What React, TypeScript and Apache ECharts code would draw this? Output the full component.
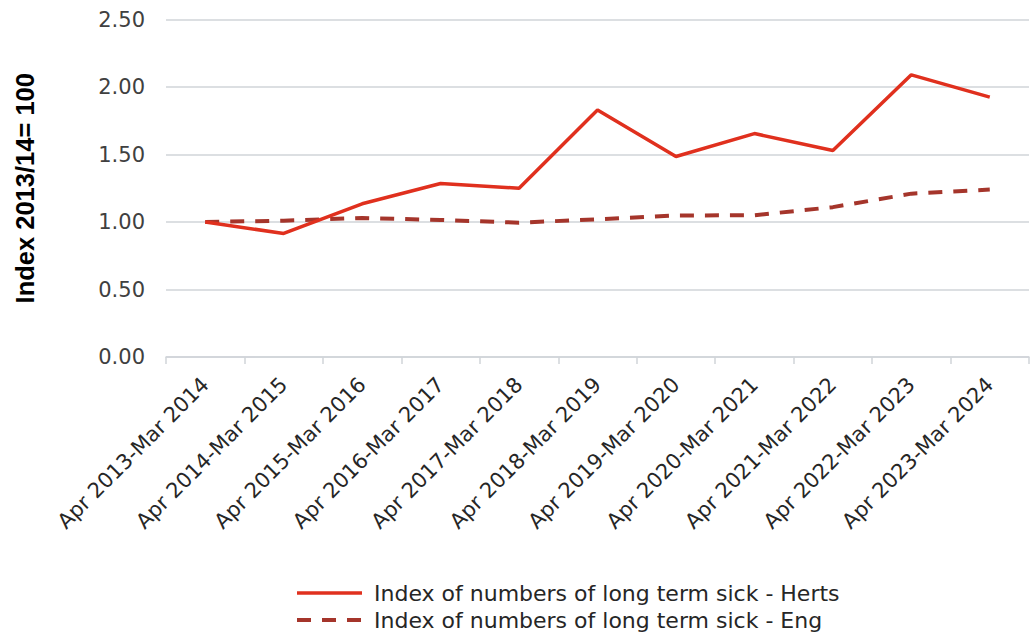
import React, { useEffect, useRef } from "react";
import * as echarts from "echarts";

const periods = [
  "Apr 2013-Mar 2014",
  "Apr 2014-Mar 2015",
  "Apr 2015-Mar 2016",
  "Apr 2016-Mar 2017",
  "Apr 2017-Mar 2018",
  "Apr 2018-Mar 2019",
  "Apr 2019-Mar 2020",
  "Apr 2020-Mar 2021",
  "Apr 2021-Mar 2022",
  "Apr 2022-Mar 2023",
  "Apr 2023-Mar 2024",
];

const hertsIndex = [1.0, 0.915, 1.135, 1.285, 1.25, 1.83, 1.485, 1.655, 1.53, 2.09, 1.925];
const englandIndex = [1.0, 1.01, 1.03, 1.015, 0.995, 1.02, 1.048, 1.05, 1.11, 1.21, 1.24];

const hertsName = "Index of numbers of long term sick - Herts";
const englandName = "Index of numbers of long term sick - Eng";

const FONT = "DejaVu Sans";
const HERTS_COLOR = "#e0301e";
const ENG_COLOR = "#a5352b";
const ENG_DASH = [14, 11];

export default function App() {
  const ref = useRef<HTMLDivElement>(null);

  useEffect(() => {
    if (!ref.current) return;
    const chart = echarts.init(ref.current, null, { renderer: "svg" });
    chart.setOption({
      animation: false,
      backgroundColor: "#ffffff",
      grid: { left: 166, right: 2, top: 19.5, bottom: 282, containLabel: false },
      legend: {
        orient: "vertical",
        left: 290,
        top: 577,
        itemWidth: 65,
        itemHeight: 12,
        itemGap: 5,
        itemStyle: { opacity: 0 },
        textStyle: {
          fontFamily: FONT,
          fontSize: 22,
          color: "#262626",
          padding: [0, 0, 0, 7],
        },
        data: [
          { name: hertsName, lineStyle: { width: 3.5, color: HERTS_COLOR } },
          { name: englandName, lineStyle: { width: 4, color: ENG_COLOR, type: ENG_DASH } },
        ],
      },
      xAxis: {
        type: "category",
        data: periods,
        boundaryGap: true,
        axisLine: { lineStyle: { color: "#d0d4d9", width: 1.5 } },
        axisTick: { show: true, length: 7, lineStyle: { color: "#d0d4d9", width: 1.5 } },
        axisLabel: {
          rotate: 45,
          interval: 0,
          margin: 24,
          fontFamily: FONT,
          fontSize: 21,
          color: "#262626",
        },
      },
      yAxis: {
        type: "value",
        min: 0,
        max: 2.5,
        interval: 0.5,
        name: "Index 2013/14= 100",
        nameLocation: "middle",
        nameRotate: 90,
        nameGap: 128,
        nameTextStyle: {
          fontFamily: "Liberation Sans",
          fontWeight: "bold",
          fontSize: 25.5,
          color: "#000000",
        },
        axisLine: { show: false },
        axisTick: { show: false },
        axisLabel: {
          margin: 21,
          fontFamily: FONT,
          fontSize: 21,
          color: "#404040",
          formatter: (v: number) => v.toFixed(2),
        },
        splitLine: { lineStyle: { color: "#d0d4d9", width: 1.5 } },
      },
      series: [
        {
          name: hertsName,
          type: "line",
          data: hertsIndex,
          symbol: "none",
          lineStyle: { color: HERTS_COLOR, width: 3.5 },
          itemStyle: { color: HERTS_COLOR },
          z: 3,
        },
        {
          name: englandName,
          type: "line",
          data: englandIndex,
          symbol: "none",
          lineStyle: { color: ENG_COLOR, width: 4, type: ENG_DASH },
          itemStyle: { color: ENG_COLOR },
          z: 2,
        },
      ],
    });
    return () => chart.dispose();
  }, []);

  return (
    <div
      ref={ref}
      style={{ position: "fixed", left: 0, top: 0, width: 1031, height: 639 }}
    />
  );
}
